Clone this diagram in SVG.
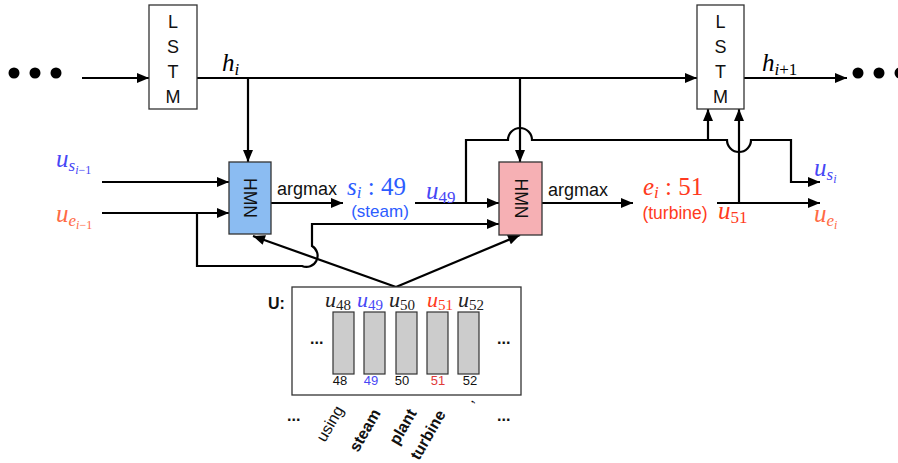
<svg xmlns="http://www.w3.org/2000/svg" width="898" height="463" viewBox="0 0 898 463">
<style>
.box{fill:#fff;stroke:#333;stroke-width:1.3}
.lbl{font-family:"Liberation Sans",Arial,sans-serif;fill:#111}
.m{font-family:"Liberation Serif","DejaVu Serif",serif;font-style:italic}
.up{font-style:normal}
.cn{fill:none;stroke:#000;stroke-width:2.2}
.col{fill:#cccccc;stroke:#333;stroke-width:1.2}
.blue{fill:#4747f5}
.sblue{fill:#2c5cff}
.org{fill:#ff6a45}
.red{fill:#ff3a20}
</style>
<defs>
<marker id="ah" viewBox="0 0 12 10" refX="12" refY="5" markerWidth="13" markerHeight="10" markerUnits="userSpaceOnUse" orient="auto">
<path d="M0,0 L12,5 L0,10 z" fill="#000"/>
</marker>
</defs>

<g id="dots-left"><circle cx="14" cy="73" r="5.5"/><circle cx="35" cy="73" r="5.5"/><circle cx="56" cy="73" r="5.5"/></g>
<g id="dots-right"><circle cx="858" cy="73" r="5.5"/><circle cx="879" cy="73" r="5.5"/><circle cx="900" cy="73" r="5.5"/></g>

<g id="connectors">
<path class="cn" d="M82,78 H149" marker-end="url(#ah)"/>
<path class="cn" d="M197,78 H697" marker-end="url(#ah)"/>
<path class="cn" d="M744,78 H847" marker-end="url(#ah)"/>
<path class="cn" d="M248,78 V162" marker-end="url(#ah)"/>
<path class="cn" d="M520,78 V162" marker-end="url(#ah)"/>
<path class="cn" d="M102,182 H229" marker-end="url(#ah)"/>
<path class="cn" d="M102,213 H229" marker-end="url(#ah)"/>
<path class="cn" d="M197,213 V266 H302 A11.2,11.2 0 0 0 312,246 V224 H499" marker-end="url(#ah)"/>
<path class="cn" d="M396,287 L253,236" marker-end="url(#ah)"/>
<path class="cn" d="M396,287 L520,235" marker-end="url(#ah)"/>
<path class="cn" d="M271,203 H343" marker-end="url(#ah)"/>
<path class="cn" d="M415,203 H499" marker-end="url(#ah)"/>
<path class="cn" d="M466,203 V140 H508 A12,12 0 0 1 532,140 H727 A12,12 0 0 0 751,140 H791 V182 H820" marker-end="url(#ah)"/>
<path class="cn" d="M708,140 V109" marker-end="url(#ah)"/>
<path class="cn" d="M542,203 H633" marker-end="url(#ah)"/>
<path class="cn" d="M717,203 H820" marker-end="url(#ah)"/>
<path class="cn" d="M739,203 V109" marker-end="url(#ah)"/>
</g>

<g id="lstm1">
<rect class="box" x="149" y="5" width="48" height="104"/>
<text class="lbl" font-size="18" text-anchor="middle"><tspan x="173" y="28">L</tspan><tspan x="173" y="53">S</tspan><tspan x="173" y="78">T</tspan><tspan x="173" y="103">M</tspan></text>
</g>
<g id="lstm2">
<rect class="box" x="697" y="5" width="47" height="104"/>
<text class="lbl" font-size="18" text-anchor="middle"><tspan x="720.5" y="28">L</tspan><tspan x="720.5" y="53">S</tspan><tspan x="720.5" y="78">T</tspan><tspan x="720.5" y="103">M</tspan></text>
</g>

<g id="hmn1">
<rect x="229" y="162" width="42" height="72" fill="#8bbcf2" stroke="#333" stroke-width="1.3"/>
<text class="lbl" font-size="17.5" text-anchor="middle" transform="translate(250,198) rotate(90)" y="6">HMN</text>
</g>
<g id="hmn2">
<rect x="499" y="162" width="43" height="73" fill="#f6b0b4" stroke="#333" stroke-width="1.3"/>
<text class="lbl" font-size="17.5" text-anchor="middle" transform="translate(520.5,198.5) rotate(90)" y="6">HMN</text>
</g>

<g id="labels">
<text class="m" x="222" y="71" font-size="25">h<tspan font-size="17" dy="4">i</tspan></text>
<text class="m" x="762" y="71" font-size="25">h<tspan font-size="17" dy="4">i</tspan><tspan class="up" font-size="17">+1</tspan></text>
<text class="m blue" x="56" y="167" font-size="25">u<tspan font-size="17" dy="4">s</tspan><tspan font-size="12" dy="3">i</tspan><tspan class="up" font-size="12">−1</tspan></text>
<text class="m org" x="56" y="222" font-size="25">u<tspan font-size="17" dy="4">e</tspan><tspan font-size="12" dy="3">i</tspan><tspan class="up" font-size="12">−1</tspan></text>
<text class="lbl" x="277" y="195" font-size="18">argmax</text>
<text class="lbl" x="548" y="196" font-size="18">argmax</text>
<text class="m sblue" x="347" y="195" font-size="25">s<tspan font-size="17" dy="3">i</tspan><tspan class="up" dy="-3"> : 49</tspan></text>
<text class="lbl sblue" x="380" y="217" font-size="17" text-anchor="middle">(steam)</text>
<text class="m blue" x="426" y="199" font-size="25">u<tspan class="up" font-size="17" dy="4">49</tspan></text>
<text class="m red" x="643" y="195" font-size="25">e<tspan font-size="17" dy="3">i</tspan><tspan class="up" dy="-3"> : 51</tspan></text>
<text class="lbl red" x="675" y="219" font-size="17.5" text-anchor="middle">(turbine)</text>
<text class="m red" x="718" y="219" font-size="25">u<tspan class="up" font-size="17" dy="4">51</tspan></text>
<text class="m blue" x="814" y="176" font-size="25">u<tspan font-size="17" dy="4">s</tspan><tspan font-size="12" dy="3">i</tspan></text>
<text class="m org" x="814" y="222" font-size="25">u<tspan font-size="17" dy="4">e</tspan><tspan font-size="12" dy="3">i</tspan></text>
</g>

<g id="U">
<text class="lbl" x="268" y="309" font-size="16" font-weight="bold">U:</text>
<rect class="box" x="292" y="287" width="229" height="108"/>
<rect class="col" x="333" y="312" width="21" height="62"/>
<rect class="col" x="364" y="312" width="21" height="62"/>
<rect class="col" x="396" y="312" width="21" height="62"/>
<rect class="col" x="427" y="312" width="21" height="62"/>
<rect class="col" x="458" y="312" width="21" height="62"/>
<text class="m" x="325" y="307" font-size="22" fill="#222">u<tspan class="up" font-size="15" dy="3">48</tspan></text>
<text class="m blue" x="357" y="307" font-size="22">u<tspan class="up" font-size="15" dy="3">49</tspan></text>
<text class="m" x="389" y="307" font-size="22" fill="#222">u<tspan class="up" font-size="15" dy="3">50</tspan></text>
<text class="m red" x="427" y="307" font-size="22">u<tspan class="up" font-size="15" dy="3">51</tspan></text>
<text class="m" x="458" y="307" font-size="22" fill="#222">u<tspan class="up" font-size="15" dy="3">52</tspan></text>
<text class="lbl" font-size="13" text-anchor="middle" y="385"><tspan x="340">48</tspan><tspan x="371" class="blue">49</tspan><tspan x="402">50</tspan><tspan x="438" fill="#e03a3a">51</tspan><tspan x="470">52</tspan></text>
<text class="lbl" x="310" y="344" font-size="16" font-weight="bold">...</text>
<text class="lbl" x="497" y="344" font-size="16" font-weight="bold">...</text>
</g>

<g id="tokens">
<text class="lbl" x="287" y="421" font-size="16" font-weight="bold">...</text>
<text class="lbl" x="497" y="421" font-size="16" font-weight="bold">...</text>
<text class="lbl" font-size="16" transform="translate(325,443) rotate(-60)">using</text>
<text class="lbl" font-size="16" font-weight="bold" transform="translate(358,453) rotate(-60)">steam</text>
<text class="lbl" font-size="16" font-weight="bold" transform="translate(398,446) rotate(-60)">plant</text>
<text class="lbl" font-size="16" font-weight="bold" transform="translate(419,461) rotate(-60)">turbine</text>
<text class="lbl" font-size="16" transform="translate(472,404) rotate(-60)">,</text>
</g>
</svg>
